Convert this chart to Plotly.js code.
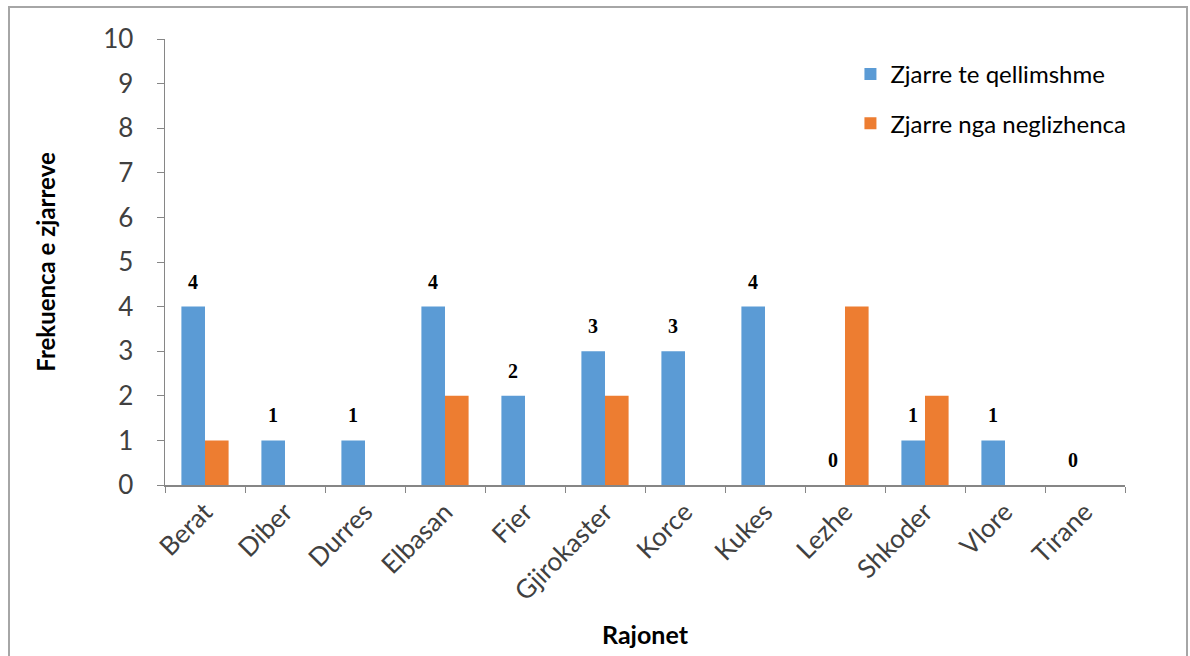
<!DOCTYPE html>
<html>
<head>
<meta charset="utf-8">
<script src="https://cdn.plot.ly/plotly-3.0.1.min.js"></script>
<style>
  html, body { margin: 0; padding: 0; background: #ffffff; }
  #frame { position: absolute; left: 8px; top: 6px; width: 1180px; height: 660px; border: 2px solid #a6a6a6; box-sizing: border-box; }
  #chart { position: absolute; left: 0; top: 0; width: 1190px; height: 656px; }
</style>
</head>
<body>
<div id="frame"></div>
<div id="chart"></div>
<script>
const categories = ["Berat", "Diber", "Durres", "Elbasan", "Fier", "Gjirokaster", "Korce", "Kukes", "Lezhe", "Shkoder", "Vlore", "Tirane"];
const qellimshme = [4, 1, 1, 4, 2, 3, 3, 4, 0, 1, 1, 0];
const neglizhenca = [1, 0, 0, 2, 0, 2, 0, 0, 4, 2, 0, 0];
const seriesNames = ["Zjarre te qellimshme", "Zjarre nga neglizhenca"];
const yTitle = "Frekuenca e zjarreve";
const xTitle = "Rajonet";

const sans = "Lato, 'Open Sans', sans-serif";
const tickFont = { family: sans, size: 26, color: "#404040" };

const data = [
  {
    type: "bar",
    name: seriesNames[0],
    legendgroup: "a",
    x: categories,
    y: qellimshme,
    marker: { color: "#5B9BD5" },
    hoverinfo: "x+y"
  },
  {
    type: "bar",
    name: seriesNames[1],
    legendgroup: "b",
    x: categories,
    y: neglizhenca,
    marker: { color: "#ED7D31" },
    hoverinfo: "x+y"
  }
];

// data labels above the first series' bars
const annotations = categories.map((c, i) => ({
  x: c,
  y: qellimshme[i],
  xref: "x",
  yref: "y",
  text: String(qellimshme[i]),
  showarrow: false,
  xanchor: "center",
  yanchor: "bottom",
  xshift: -12,
  yshift: 12,
  font: { family: "'Liberation Serif', 'DejaVu Serif', serif", size: 20, color: "#000000", weight: "bold" }
}));

const layout = {
  width: 1190,
  height: 656,
  paper_bgcolor: "rgba(0,0,0,0)",
  plot_bgcolor: "rgba(0,0,0,0)",
  margin: { l: 165, r: 65, t: 39, b: 171 },
  barmode: "group",
  bargap: 0.41,
  bargroupgap: 0,
  showlegend: true,
  legend: {
    x: 0.714, y: 0.971, xanchor: "left", yanchor: "top",
    bgcolor: "rgba(0,0,0,0)",
    font: { family: sans, size: 24, color: "#000000" },
    tracegroupgap: 15,
    traceorder: "grouped",
    itemwidth: 30
  },
  annotations: annotations,
  xaxis: {
    type: "category",
    showline: true,
    linecolor: "#868686",
    linewidth: 1.5,
    ticks: "outside",
    tickson: "boundaries",
    ticklen: 6,
    tickcolor: "#868686",
    tickangle: -45,
    tickfont: tickFont,
    showgrid: false,
    zeroline: false,
    title: { text: xTitle, font: { family: sans, size: 25, color: "#000000", weight: "bold" }, standoff: 21 }
  },
  yaxis: {
    range: [0, 10],
    dtick: 1,
    showline: true,
    linecolor: "#868686",
    linewidth: 1.5,
    ticks: "outside",
    ticklen: 7,
    tickcolor: "#868686",
    tickfont: tickFont,
    ticklabelstandoff: 18,
    showgrid: false,
    zeroline: false,
    title: { text: yTitle, font: { family: sans, size: 24, color: "#000000", weight: "bold" }, standoff: 40 }
  }
};

Plotly.newPlot("chart", data, layout, { displayModeBar: false, staticPlot: true });
</script>
</body>
</html>
